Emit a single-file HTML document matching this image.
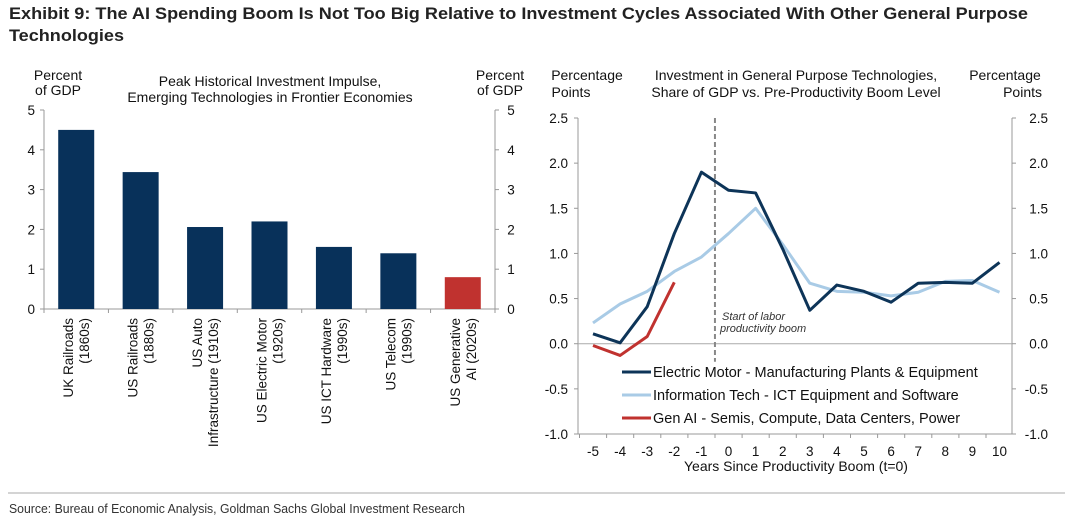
<!DOCTYPE html>
<html><head><meta charset="utf-8"><style>
body{margin:0;background:#fff;}
svg{display:block;font-family:"Liberation Sans",Arial,sans-serif;}
</style></head><body>
<svg id="s" width="1065" height="529" viewBox="0 0 1065 529">
<text x="9" y="19" font-size="17" font-weight="bold" fill="#222" textLength="1019" lengthAdjust="spacingAndGlyphs">Exhibit 9: The AI Spending Boom Is Not Too Big Relative to Investment Cycles Associated With Other General Purpose</text>
<text x="9" y="41" font-size="17" font-weight="bold" fill="#222" textLength="115" lengthAdjust="spacingAndGlyphs">Technologies</text>
<line x1="8" y1="493" x2="1065" y2="493" stroke="#bbb" stroke-width="1.2"/>
<text x="9" y="513" font-size="13" fill="#333" textLength="456" lengthAdjust="spacingAndGlyphs">Source: Bureau of Economic Analysis, Goldman Sachs Global Investment Research</text>
<g id="left"></g>
<g id="right"></g>
</svg>
<script>
// ---- Bar chart data ----
const barCats = [["UK Railroads","(1860s)"],["US Railroads","(1880s)"],["US Auto","Infrastructure (1910s)"],["US Electric Motor","(1920s)"],["US ICT Hardware","(1990s)"],["US Telecom","(1990s)"],["US Generative","AI (2020s)"]];
const barValues = [4.5, 3.44, 2.06, 2.2, 1.56, 1.4, 0.8];
const barTicks = [0,1,2,3,4,5];
// ---- Line chart data ----
const years = [-5,-4,-3,-2,-1,0,1,2,3,4,5,6,7,8,9,10];
const electricMotor = [0.11,0.01,0.41,1.22,1.90,1.70,1.67,1.05,0.37,0.65,0.58,0.46,0.67,0.68,0.67,0.90];
const infoTech = [0.23,0.44,0.58,0.80,0.96,1.22,1.50,1.10,0.67,0.58,0.57,0.53,0.57,0.69,0.70,0.57];
const genAI = [-0.02,-0.13,0.08,0.68];
const lineTicks = [-1.0,-0.5,0.0,0.5,1.0,1.5,2.0,2.5];

const NS="http://www.w3.org/2000/svg";
function mk(parent,tag,attrs,text){const e=document.createElementNS(NS,tag);for(const k in attrs)e.setAttribute(k,attrs[k]);if(text!==undefined)e.textContent=text;parent.appendChild(e);return e;}

// Bar chart
(function(){
const g=document.getElementById('left');
const x0=44,x1=495,yZero=309,yTop=110,vMax=5;
const y=v=>yZero-(v/vMax)*(yZero-yTop);
const cw=(x1-x0)/barCats.length;
let t;
t=mk(g,'text',{x:58,y:80,'font-size':14,fill:'#111','text-anchor':'middle'},'Percent');


t=mk(g,'text',{x:58,y:95,'font-size':14,fill:'#111','text-anchor':'middle'},'of GDP');


t=mk(g,'text',{x:500,y:80,'font-size':14,fill:'#111','text-anchor':'middle'},'Percent');


t=mk(g,'text',{x:500,y:95,'font-size':14,fill:'#111','text-anchor':'middle'},'of GDP');


t=mk(g,'text',{x:270,y:86,'font-size':14,fill:'#111','text-anchor':'middle'},'Peak Historical Investment Impulse,');


t=mk(g,'text',{x:270,y:102,'font-size':14,fill:'#111','text-anchor':'middle'},'Emerging Technologies in Frontier Economies');


mk(g,'line',{x1:x0,y1:yTop,x2:x0,y2:yZero,stroke:'#999'});
mk(g,'line',{x1:x1,y1:yTop,x2:x1,y2:yZero,stroke:'#999'});
barTicks.forEach(v=>{
  mk(g,'line',{x1:x0-4,y1:y(v),x2:x0,y2:y(v),stroke:'#999'});
  mk(g,'line',{x1:x1,y1:y(v),x2:x1+4,y2:y(v),stroke:'#999'});
  const a=mk(g,'text',{x:x0-9,y:y(v)+5,'font-size':13.5,fill:'#111','text-anchor':'end'},String(v));
  
  
  const b=mk(g,'text',{x:x1+16,y:y(v)+5,'font-size':13.5,fill:'#111','text-anchor':'middle'},String(v));
  
  
});
mk(g,'line',{x1:x0,y1:yZero,x2:x1,y2:yZero,stroke:'#999'});
for(let i=0;i<=barCats.length;i++){mk(g,'line',{x1:x0+i*cw,y1:yZero,x2:x0+i*cw,y2:yZero+4,stroke:'#999'});}
barValues.forEach((v,i)=>{
  const cx=x0+cw*(i+0.5);
  const r=mk(g,'rect',{x:cx-18,y:y(v),width:36,height:yZero-y(v),fill:i===barValues.length-1?'#c0322f':'#08315a'});
  
  
  const lines=barCats[i];
  lines.forEach((ln,j)=>{
    const tx=mk(g,'text',{x:0,y:0,'font-size':13.5,fill:'#111','text-anchor':'end',transform:`translate(${cx-3+j*16-8*(lines.length-1)+8},318) rotate(-90)`},ln);
    
    
  });
});
})();

// Line chart
(function(){
const g=document.getElementById('right');
const xL=578,xR=1012,yT=118,yB=434,vMin=-1,vMax=2.5;
const y=v=>yB-(v-vMin)/(vMax-vMin)*(yB-yT);
const x=t=>593+(t+5)*27.1;
let t;
const hdr=[['Percentage',587,80,'middle','left-axis-title'],['Points',571,97,'middle','left-axis-title-2'],['Percentage',1005,80,'middle','right-axis-title'],['Points',1042,97,'end','right-axis-title-2'],['Investment in General Purpose Technologies,',796,80,'middle','line-chart-title'],['Share of GDP vs. Pre-Productivity Boom Level',796,97,'middle','line-chart-subtitle']];
hdr.forEach(h=>{t=mk(g,'text',{x:h[1],y:h[2],'font-size':14,fill:'#111','text-anchor':h[3]},h[0]);
 
 });
mk(g,'line',{x1:xL,y1:yT,x2:xL,y2:yB,stroke:'#999'});
mk(g,'line',{x1:xR,y1:yT,x2:xR,y2:yB,stroke:'#999'});
lineTicks.forEach(v=>{
  mk(g,'line',{x1:xL-4,y1:y(v),x2:xL,y2:y(v),stroke:'#999'});
  mk(g,'line',{x1:xR,y1:y(v),x2:xR+4,y2:y(v),stroke:'#999'});
  const a=mk(g,'text',{x:xL-10,y:y(v)+5,'font-size':13.5,fill:'#111','text-anchor':'end'},v.toFixed(1));
  
  
  const b=mk(g,'text',{x:xR+36,y:y(v)+5,'font-size':13.5,fill:'#111','text-anchor':'end'},v.toFixed(1));
  
  
});
mk(g,'line',{x1:xL,y1:y(0),x2:xR,y2:y(0),stroke:'#aaa'});
mk(g,'line',{x1:xL,y1:yB,x2:xR,y2:yB,stroke:'#999'});
years.forEach(yr=>{
  mk(g,'line',{x1:x(yr)-13.5,y1:yB,x2:x(yr)-13.5,y2:yB+4,stroke:'#999'});
  const a=mk(g,'text',{x:x(yr),y:456,'font-size':13.5,fill:'#111','text-anchor':'middle'},String(yr));
  
  
});
t=mk(g,'text',{x:796,y:471,'font-size':14,fill:'#111','text-anchor':'middle'},'Years Since Productivity Boom (t=0)');


t=mk(g,'line',{x1:x(-0.5),y1:yT,x2:x(-0.5),y2:y(-0.2),stroke:'#888','stroke-width':2,'stroke-dasharray':'5,3'});


t=mk(g,'text',{x:722,y:320,'font-size':11,'font-style':'italic',fill:'#333'},'Start of labor');


t=mk(g,'text',{x:720,y:332,'font-size':11,'font-style':'italic',fill:'#333'},'productivity boom');


function path(vals,color,name){
  const d=vals.map((v,i)=>(i?'L':'M')+x(years[i])+','+y(v)).join(' ');
  const p=mk(g,'path',{d:d,fill:'none',stroke:color,'stroke-width':3,'stroke-linejoin':'round'});
  
  
}
path(infoTech,'#a9cbe6','line-information-tech');
path(electricMotor,'#0d3458','line-electric-motor');
path(genAI,'#c0322f','line-gen-ai');
const leg=[['#0d3458','Electric Motor -  Manufacturing Plants & Equipment'],['#a9cbe6','Information Tech - ICT Equipment and Software'],['#c0322f','Gen AI - Semis, Compute, Data Centers, Power']];
leg.forEach((l,i)=>{
  const yy=372+i*23;
  const lg=mk(g,'g',{});
  
  
  mk(lg,'line',{x1:622,y1:yy,x2:651,y2:yy,stroke:l[0],'stroke-width':3});
  mk(lg,'text',{x:653,y:yy+5,'font-size':14.5,fill:'#111'},l[1]);
});
})();
</script>
</body></html>
